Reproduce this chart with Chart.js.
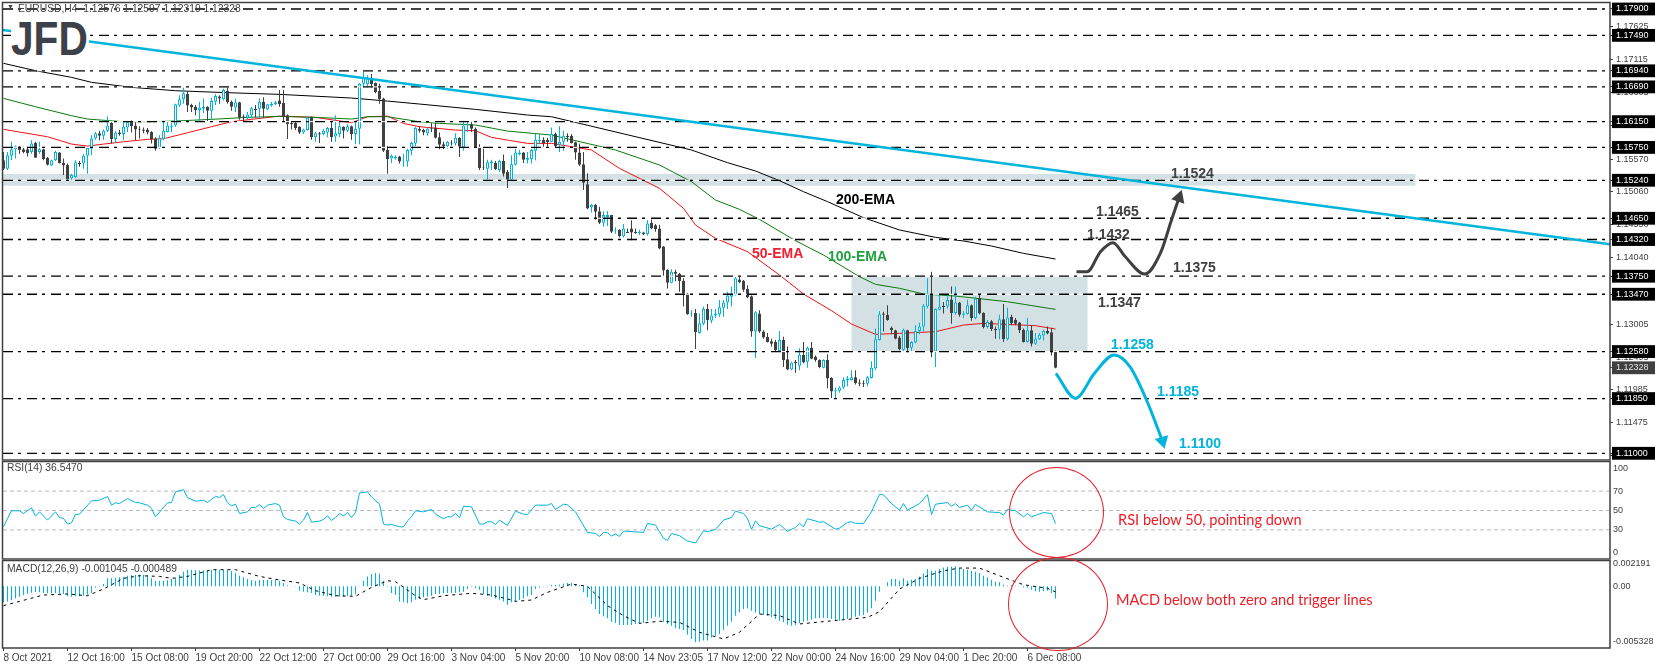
<!DOCTYPE html>
<html>
<head>
<meta charset="utf-8">
<title>EURUSD H4</title>
<script src="https://cdn.jsdelivr.net/npm/chart.js@4/dist/chart.umd.min.js"></script>
<style>
  html, body { margin: 0; padding: 0; background: #fff; width: 1655px; height: 669px; overflow: hidden; }
  canvas { position: absolute; left: 0; }
  #cMain { top: 0; }
  #cRsi { top: 461px; }
  #cMacd { top: 560px; }
  .t { position: absolute; white-space: nowrap; line-height: 16px; }
  .info { font: 10.3px "Liberation Sans", sans-serif; color: #404040; }
  .note { font: bold 14px "Liberation Sans", sans-serif; color: #404040; }
  .cyan { color: #00b4dc; }
  .red { font: 14.6px "Lato", sans-serif; color: #ee1c25; }
  .ring { position: absolute; box-sizing: border-box; border: 1px solid #e8202c; border-radius: 50%; }
  #logo { position: absolute; left: 11px; top: 18px; width: 78px; height: 39px; background: #fff; overflow: hidden; }
  #logo span { position: absolute; left: 0; top: -4px; font: bold 49px/49px "Liberation Sans", sans-serif; color: #3d4149; transform: scaleX(0.83); transform-origin: left top; }
</style>
</head>
<body>
<canvas id="cMain" width="1655" height="461"></canvas>
<canvas id="cRsi" width="1655" height="99"></canvas>
<canvas id="cMacd" width="1655" height="109"></canvas>

<div id="logo"><span>JFD</span></div>
<div class="t info" style="left:7px;top:3px;font-size:7px">▼</div>
<div class="t info" style="left:18px;top:3px">EURUSD,H4&nbsp; 1.12576 1.12597 1.12319 1.12328</div>
<div class="t info" style="left:7px;top:462px">RSI(14) 36.5470</div>
<div class="t info" style="left:7px;top:563px">MACD(12,26,9) -0.001045 -0.000489</div>

<div class="t note" style="left:1171px;top:165px">1.1524</div>
<div class="t note" style="left:1096px;top:203px">1.1465</div>
<div class="t note" style="left:1087px;top:226px">1.1432</div>
<div class="t note" style="left:1173px;top:259px">1.1375</div>
<div class="t note" style="left:1098px;top:294px">1.1347</div>
<div class="t note cyan" style="left:1111px;top:336px">1.1258</div>
<div class="t note cyan" style="left:1157px;top:383px">1.1185</div>
<div class="t note cyan" style="left:1179px;top:435px">1.1100</div>
<div class="t note" style="left:836px;top:191px;color:#000">200-EMA</div>
<div class="t note" style="left:752px;top:245px;color:#f02030">50-EMA</div>
<div class="t note" style="left:828px;top:248px;color:#1fa040">100-EMA</div>

<div class="ring" style="left:1009px;top:467px;width:95px;height:91px"></div>
<div class="ring" style="left:1008px;top:557px;width:100px;height:94px"></div>
<div class="t red" style="left:1118px;top:511px">RSI below 50, pointing down</div>
<div class="t red" style="left:1116px;top:591px">MACD below both zero and trigger lines</div>

<script>
// ---- Candles, one value per H4 bar ----

const opens = [
  1.1555,1.1542,1.1562,1.1572,1.1576,1.1572,1.1572,1.1568,1.1582,1.1568,
  1.1572,1.1559,1.1547,1.1555,1.1567,1.1551,1.1548,1.1527,1.1529,1.1551,
  1.1550,1.1562,1.1573,1.1589,1.1597,1.1593,1.1601,1.1613,1.1588,1.1598,
  1.1596,1.1606,1.1615,1.1609,1.1604,1.1603,1.1603,1.1599,1.1589,1.1574,
  1.1588,1.1599,1.1606,1.1609,1.1640,1.1650,1.1658,1.1641,1.1638,1.1633,
  1.1635,1.1638,1.1632,1.1646,1.1654,1.1650,1.1663,1.1646,1.1637,1.1645,
  1.1623,1.1621,1.1625,1.1635,1.1635,1.1646,1.1634,1.1640,1.1642,1.1648,
  1.1644,1.1625,1.1613,1.1613,1.1607,1.1598,1.1602,1.1622,1.1591,1.1597,
  1.1596,1.1598,1.1605,1.1592,1.1596,1.1607,1.1601,1.1608,1.1596,1.1604,
  1.1674,1.1673,1.1682,1.1675,1.1663,1.1651,1.1571,1.1558,1.1558,1.1561,
  1.1553,1.1553,1.1570,1.1581,1.1604,1.1602,1.1597,1.1605,1.1606,1.1591,
  1.1580,1.1577,1.1582,1.1581,1.1590,1.1575,1.1609,1.1611,1.1604,1.1576,
  1.1545,1.1542,1.1551,1.1551,1.1540,1.1554,1.1537,1.1525,1.1548,1.1564,
  1.1567,1.1556,1.1557,1.1570,1.1585,1.1587,1.1587,
  1.1584,1.1596,1.1579,1.1584,1.1593,1.1593,1.1583,1.1567,1.1549,1.1518,
  1.1482,1.1486,1.1476,1.1458,1.1467,1.1470,1.1445,1.1447,1.1437,1.1444,
  1.1449,1.1444,1.1442,1.1443,1.1440,1.1458,1.1454,1.1449,1.1421,1.1385,
  1.1365,1.1382,1.1379,1.1368,1.1348,1.1316,1.1318,1.1287,1.1301,1.1324,
  1.1306,1.1314,1.1316,1.1326,1.1334,1.1343,1.1346,1.1370,1.1368,1.1355,
  1.1344,1.1289,1.1317,1.1289,1.1281,1.1274,1.1273,1.1259,1.1276,1.1246,
  1.1230,1.1242,1.1236,1.1253,1.1242,1.1264,1.1250,1.1245,1.1233,1.1245,
  1.1217,1.1196,1.1197,1.1202,1.1213,1.1214,1.1218,1.1210,1.1209,1.1208,
  1.1217,1.1232,1.1276,1.1317,1.1315,1.1295,1.1291,1.1280,1.1261,1.1291,
  1.1264,1.1272,1.1290,1.1297,1.1328,1.1347,1.1258,1.1323,1.1329,1.1328,
  1.1339,1.1318,1.1334,1.1315,1.1316,1.1330,1.1310,1.1341,1.1318,1.1296,
  1.1305,1.1293,1.1292,1.1308,1.1277,1.1312,1.1307,1.1303,1.1292,1.1273,
  1.1291,1.1270,1.1277,1.1283,1.1290,1.1288,1.12576
];

const highs = [
  1.1568,1.1568,1.1584,1.1578,1.1577,1.1576,1.1576,1.1586,1.1584,1.1584,
  1.1573,1.1560,1.1556,1.1570,1.1568,1.1558,1.1550,1.1534,1.1555,1.1554,
  1.1565,1.1576,1.1594,1.1599,1.1601,1.1603,1.1623,1.1615,1.1601,1.1602,
  1.1615,1.1616,1.1617,1.1615,1.1608,1.1606,1.1605,1.1600,1.1591,1.1594,
  1.1615,1.1615,1.1613,1.1643,1.1656,1.1668,1.1661,1.1643,1.1641,1.1646,
  1.1651,1.1639,1.1652,1.1658,1.1656,1.1666,1.1668,1.1648,1.1651,1.1646,
  1.1626,1.1630,1.1638,1.1641,1.1651,1.1653,1.1643,1.1646,1.1647,1.1664,
  1.1664,1.1626,1.1616,1.1615,1.1608,1.1604,1.1623,1.1623,1.1599,1.1599,
  1.1604,1.1607,1.1615,1.1625,1.1616,1.1608,1.1611,1.1609,1.1615,1.1675,
  1.1693,1.1687,1.1689,1.1676,1.1674,1.1652,1.1577,1.1564,1.1563,1.1562,
  1.1565,1.1573,1.1584,1.1607,1.1608,1.1604,1.1606,1.1613,1.1613,1.1598,
  1.1584,1.1585,1.1586,1.1597,1.1591,1.1616,1.1615,1.1616,1.1606,1.1580,
  1.1573,1.1556,1.1556,1.1554,1.1556,1.1564,1.1540,1.1563,1.1573,1.1571,
  1.1568,1.1568,1.1573,1.1596,1.1596,1.1591,1.1590,
  1.1606,1.1598,1.1608,1.1601,1.1597,1.1596,1.1584,1.1581,1.1568,1.1535,
  1.1487,1.1487,1.1483,1.1476,1.1476,1.1470,1.1451,1.1448,1.1456,1.1449,
  1.1462,1.1449,1.1447,1.1444,1.1462,1.1463,1.1456,1.1455,1.1422,1.1386,
  1.1386,1.1385,1.1380,1.1372,1.1349,1.1322,1.1324,1.1317,1.1328,1.1332,
  1.1324,1.1324,1.1338,1.1338,1.1351,1.1359,1.1374,1.1375,1.1369,1.1361,
  1.1345,1.1321,1.1322,1.1291,1.1287,1.1278,1.1276,1.1290,1.1281,1.1266,
  1.1242,1.1245,1.1263,1.1273,1.1266,1.1273,1.1252,1.1246,1.1246,1.1254,
  1.1218,1.1202,1.1204,1.1218,1.1220,1.1229,1.1229,1.1215,1.1213,1.1220,
  1.1243,1.1294,1.1321,1.1320,1.1330,1.1297,1.1292,1.1282,1.1294,1.1292,
  1.1274,1.1299,1.1303,1.1332,1.1372,1.1382,1.1325,1.1346,1.1335,1.1346,
  1.1359,1.1359,1.1335,1.1321,1.1339,1.1331,1.1343,1.1347,1.1319,1.1307,
  1.1307,1.1297,1.1315,1.1332,1.1326,1.1315,1.1310,1.1304,1.1294,1.1310,
  1.1299,1.1287,1.1287,1.1292,1.1297,1.1295,1.12597
];

const lows = [
  1.1540,1.1540,1.1555,1.1558,1.1565,1.1566,1.1561,1.1565,1.1559,1.1565,
  1.1555,1.1547,1.1546,1.1554,1.1550,1.1532,1.1523,1.1523,1.1528,1.1545,
  1.1542,1.1534,1.1563,1.1587,1.1586,1.1587,1.1599,1.1581,1.1582,1.1593,
  1.1586,1.1599,1.1598,1.1586,1.1589,1.1597,1.1595,1.1581,1.1570,1.1573,
  1.1586,1.1598,1.1599,1.1607,1.1638,1.1643,1.1630,1.1630,1.1625,1.1617,
  1.1628,1.1616,1.1618,1.1641,1.1643,1.1648,1.1643,1.1632,1.1630,1.1618,
  1.1616,1.1618,1.1620,1.1622,1.1620,1.1621,1.1633,1.1638,1.1641,1.1638,
  1.1616,1.1588,1.1603,1.1602,1.1596,1.1596,1.1601,1.1587,1.1584,1.1582,
  1.1594,1.1591,1.1584,1.1584,1.1591,1.1589,1.1599,1.1587,1.1580,1.1580,
  1.1668,1.1668,1.1668,1.1659,1.1643,1.1568,1.1534,1.1551,1.1556,1.1550,
  1.1545,1.1545,1.1563,1.1577,1.1598,1.1594,1.1593,1.1599,1.1589,1.1572,
  1.1572,1.1573,1.1578,1.1578,1.1560,1.1570,1.1599,1.1599,1.1574,1.1540,
  1.1540,1.1525,1.1540,1.1540,1.1537,1.1530,1.1512,1.1524,1.1547,1.1563,
  1.1551,1.1550,1.1550,1.1555,1.1581,1.1576,1.1576,
  1.1583,1.1575,1.1568,1.1570,1.1584,1.1581,1.1556,1.1546,1.1509,1.1479,
  1.1474,1.1463,1.1456,1.1452,1.1453,1.1442,1.1441,1.1435,1.1435,1.1442,
  1.1431,1.1441,1.1439,1.1439,1.1438,1.1448,1.1444,1.1417,1.1375,1.1356,
  1.1364,1.1367,1.1351,1.1328,1.1315,1.1312,1.1262,1.1286,1.1299,1.1291,
  1.1302,1.1310,1.1312,1.1312,1.1324,1.1328,1.1345,1.1364,1.1351,1.1341,
  1.1281,1.1248,1.1287,1.1278,1.1272,1.1266,1.1258,1.1258,1.1234,1.1229,
  1.1229,1.1225,1.1229,1.1240,1.1233,1.1246,1.1242,1.1232,1.1232,1.1201,
  1.1185,1.1185,1.1194,1.1200,1.1204,1.1213,1.1207,1.1204,1.1203,1.1204,
  1.1216,1.1229,1.1275,1.1289,1.1306,1.1285,1.1277,1.1260,1.1258,1.1257,
  1.1258,1.1271,1.1285,1.1289,1.1325,1.1249,1.1234,1.1322,1.1317,1.1325,
  1.1301,1.1315,1.1312,1.1310,1.1315,1.1306,1.1308,1.1316,1.1294,1.1294,
  1.1290,1.1278,1.1277,1.1273,1.1275,1.1299,1.1299,1.1287,1.1272,1.1272,
  1.1266,1.1268,1.1276,1.1275,1.1285,1.1252,1.12319
];

const closes = [
  1.1542,1.1563,1.1572,1.1577,1.1571,1.1568,1.1566,1.1581,1.1559,1.1572,
  1.1557,1.1548,1.1555,1.1568,1.1551,1.1547,1.1526,1.1532,1.1552,1.1549,
  1.1562,1.1574,1.1589,1.1597,1.1593,1.1601,1.1609,1.1588,1.1598,1.1596,
  1.1607,1.1614,1.1608,1.1603,1.1603,1.1601,1.1598,1.1588,1.1573,1.1589,
  1.1601,1.1609,1.1608,1.1642,1.1650,1.1659,1.1640,1.1637,1.1633,1.1637,
  1.1638,1.1632,1.1647,1.1655,1.1651,1.1664,1.1645,1.1638,1.1645,1.1621,
  1.1621,1.1626,1.1636,1.1633,1.1646,1.1635,1.1642,1.1643,1.1645,1.1642,
  1.1622,1.1611,1.1611,1.1605,1.1598,1.1603,1.1621,1.1591,1.1597,1.1595,
  1.1601,1.1605,1.1591,1.1597,1.1608,1.1601,1.1608,1.1596,1.1604,1.1674,
  1.1683,1.1683,1.1673,1.1661,1.1650,1.1570,1.1557,1.1562,1.1560,1.1553,
  1.1554,1.1571,1.1582,1.1605,1.1601,1.1598,1.1604,1.1604,1.1590,1.1579,
  1.1577,1.1584,1.1581,1.1590,1.1576,1.1609,1.1611,1.1604,1.1575,1.1543,
  1.1544,1.1552,1.1553,1.1541,1.1554,1.1534,1.1525,1.1549,1.1567,1.1567,
  1.1556,1.1559,1.1571,1.1587,1.1587,1.1582,1.1583,
  1.1596,1.1577,1.1584,1.1593,1.1591,1.1582,1.1567,1.1548,1.1520,1.1480,
  1.1486,1.1475,1.1458,1.1470,1.1470,1.1444,1.1446,1.1437,1.1449,1.1442,
  1.1443,1.1442,1.1444,1.1440,1.1457,1.1449,1.1448,1.1418,1.1384,1.1365,
  1.1382,1.1379,1.1367,1.1348,1.1316,1.1317,1.1288,1.1302,1.1324,1.1307,
  1.1314,1.1317,1.1327,1.1334,1.1345,1.1347,1.1372,1.1366,1.1354,1.1342,
  1.1289,1.1319,1.1289,1.1280,1.1273,1.1270,1.1260,1.1276,1.1245,1.1230,
  1.1241,1.1240,1.1253,1.1241,1.1264,1.1247,1.1245,1.1234,1.1245,1.1216,
  1.1196,1.1198,1.1202,1.1214,1.1216,1.1218,1.1209,1.1208,1.1208,1.1218,
  1.1233,1.1277,1.1316,1.1315,1.1307,1.1291,1.1278,1.1262,1.1292,1.1263,
  1.1273,1.1290,1.1297,1.1329,1.1347,1.1257,1.1324,1.1328,1.1327,1.1338,
  1.1318,1.1334,1.1315,1.1317,1.1330,1.1310,1.1340,1.1317,1.1296,1.1304,
  1.1293,1.1291,1.1308,1.1277,1.1311,1.1302,1.1301,1.1291,1.1273,1.1291,
  1.1270,1.1278,1.1284,1.1290,1.1286,1.1257,1.12328
];

// ---- Moving averages, read at the bars listed beside them ----

const ema200Bars = [0,8,17,22,32,43,56,69,87,96,104,118,131,137,172,181,188,194,200,206,215,224,233,240,247,255,263];
const ema200 = [1.17056,1.16942,1.16838,1.16761,1.16683,1.16631,1.16600,1.16574,1.16517,1.16470,1.16424,1.16341,1.16253,1.16227,1.1571,1.15513,1.15384,1.15234,1.15063,1.14908,1.14659,1.14468,1.14354,1.14297,1.14219,1.14105,1.14017];

const ema100Bars = [0,8,17,21,30,36,43,52,61,69,78,87,91,96,104,109,118,126,137,153,164,172,178,184,189,198,205,214,218,224,230,238,251,263];
const ema100 = [1.16512,1.16382,1.16243,1.16191,1.16149,1.16149,1.16160,1.16186,1.16217,1.16232,1.16217,1.16191,1.16227,1.16227,1.16149,1.16123,1.16098,1.16004,1.15942,1.1571,1.15477,1.15218,1.14933,1.14788,1.14633,1.14302,1.14079,1.13743,1.13624,1.13562,1.13474,1.13442,1.13354,1.13235];

const ema50Bars = [0,4,11,17,21,25,30,36,40,46,52,57,62,69,78,87,91,96,100,104,113,118,122,126,131,137,147,154,164,170,173,178,186,194,200,207,212,218,224,233,240,245,258,263];
const ema50 = [1.16030,1.15989,1.15916,1.15802,1.15771,1.15802,1.15838,1.15875,1.15885,1.15978,1.16072,1.16149,1.16186,1.16237,1.16217,1.16134,1.16227,1.16237,1.16123,1.16072,1.16020,1.16009,1.15906,1.15864,1.15813,1.15813,1.1571,1.15425,1.15115,1.14804,1.14545,1.14338,1.14131,1.13769,1.13474,1.13215,1.13008,1.12847,1.12863,1.12889,1.12992,1.13018,1.12982,1.12930];

// ---- Drawn objects on the price panel ----

const levels = [1.1790,1.1749,1.1694,1.1669,1.1615,1.1575,1.1524,1.1465,1.1432,1.1375,1.1347,1.1258,1.1185,1.1100];
const trendBars = [-0.125, 401.625];
const trendPrices = [1.17574, 1.14246];

const upPathBars = [268.25,270.9,274.25,277.35,280.45,285.3,289.25,292,293.9];
const upPathPrices = [1.13820,1.13820,1.14131,1.14271,1.14053,1.13784,1.14111,1.14623,1.1497];
const downPathBars = [263.1,268,272.75,277.65,281.6,285.75,289.75];
const downPathPrices = [1.12242,1.11854,1.12242,1.12526,1.12345,1.11828,1.11191];

const priceTicks = [1.17625,1.17115,1.16605,1.16095,1.15570,1.15060,1.14550,1.14040,1.13005,1.12495,1.11985,1.11475,1.10965];
const lastPrice = 1.12328;

// ---- RSI ----

const rsiBars = [0,1,2,4,5,7,8,9,11,13,14,15,16,17,18,19,22,24,26,27,28,29,31,33,34,36,37,38,41,42,43,45,46,48,50,51,53,54,55,56,57,58,59,61,62,63,64,65,66,68,69,70,71,73,74,75,76,77,79,80,81,82,83,84,85,86,87,88,89,91,92,94,95,96,97,99,100,101,102,103,105,107,108,110,111,112,113,114,115,117,119,120,121,122,123,124,126,128,130,131,133,136,137,138,140,141,143,146,148,149,150,151,152,153,154,155,160,161,163,165,166,167,169,171,173,175,176,178,180,182,183,185,186,187,188,189,192,194,196,198,199,200,201,204,205,208,209,211,212,213,215,217,219,220,222,224,225,226,229,231,232,233,236,237,238,239,241,242,243,246,249,250,251,253,255,256,257,260,262,263];
const rsiValues = [33.2,41.8,49.7,49.7,46.9,52.7,44.2,48.6,40.1,48.6,42.8,41.8,36,37.3,45.9,46.2,59.9,60.6,64.4,55.5,57.9,57.2,62.3,58.2,57.9,55.5,52.1,43.5,57.9,58.2,69.2,71.5,63.3,59.6,60.6,58.2,64.7,63.3,66.4,57.9,54.8,56.5,46.9,48.6,53.1,53.1,56.2,52.1,55.5,57.2,55.5,43.5,40.8,39.1,36,40.1,47.9,38,39.1,40.8,44.5,39.7,42.8,46.9,44.5,47.9,42.8,47.9,68.1,69.2,64,56.5,36,35,35.6,33.2,33.2,39.4,43.5,49.7,48.6,51,46.2,41.5,43.5,43.5,46.9,42.5,54.4,53.8,36,36,38.4,38.4,35.6,40.1,34.6,49.3,46.2,45.9,55.5,55.5,57.2,51,56.5,55.8,48.6,27.4,26.4,23.3,27.4,27.1,23.7,25.7,23.3,28.8,27.4,36.7,35,21.3,19.2,26.4,24,18.5,16.5,29.1,28.1,30.5,40.1,42.8,49.3,46.9,41.8,30.5,39.4,34.3,30.8,35.6,28.5,32.6,36.7,33.2,41.5,38,38.4,30.8,31.9,37.7,38.4,36.7,36.7,48.6,66.8,66.1,57.2,50.3,57.2,50.3,57.2,66.4,45.9,56.5,58.2,54.4,57.2,53.1,55.5,50.3,56.2,48.6,47.9,45.2,51,49.7,43.5,46.9,43.5,47.9,46.9,36.5];
const rsiLevels = [70, 50, 30];
const rsiTickPlaces = [7, 30, 50, 70, 93];
const rsiTickLabels = ['0', '30', '50', '70', '100'];

// ---- MACD, in points of 0.00001 ----

const macdHist = [
  -138,-132,-118,-104,-89,-75,-66,-55,-49,-52,-58,-60,-60,-60,-60,-66,-86,-89,-86,-86,
  -81,-72,-58,-9,-3,20,69,69,72,78,84,92,98,98,101,101,98,69,49,49,
  49,52,63,69,98,127,144,144,141,138,138,135,144,144,144,141,144,132,115,92,
  78,63,55,49,55,55,55,55,55,49,29,9,3,3,-37,-46,-52,-58,-75,-81,
  -84,-86,-89,-89,-89,-89,-86,-81,-69,3,49,86,107,115,112,49,-3,-58,-75,-130,
  -138,-147,-138,-115,-109,-95,-89,-81,-66,-66,-60,-58,-58,-58,-52,-46,-23,-3,-17,-29,
  -66,-81,-89,-104,-115,-132,-158,-138,-132,-118,-104,-86,-75,-23,-9,-2,2,12,12,14,
  23,29,29,20,12,-52,-95,-153,-196,-239,-259,-276,-305,-317,-334,-334,-334,-334,-325,-320,
  -317,-297,-276,-262,-268,-305,-325,-340,-363,-369,-377,-418,-455,-484,-478,-469,-469,-441,-426,-412,
  -377,-340,-305,-253,-225,-196,-190,-210,-225,-239,-248,-253,-268,-282,-297,-311,-331,-340,-334,-317,
  -305,-297,-288,-276,-274,-274,-274,-282,-297,-297,-288,-282,-276,-262,-253,-248,-225,-190,-124,-46,
  0,35,63,63,49,69,49,58,63,86,112,150,135,135,150,164,170,170,173,158,
  150,141,135,127,115,92,78,58,40,35,14,6,12,6,0,-9,-12,-29,-43,-46,
  -43,-37,-58,-104.5
];
const signalBars = [0,4,10,16,21,25,30,34,39,42,46,52,58,64,69,74,78,83,88,92,96,98,103,105,110,117,122,126,128,132,136,142,146,151,155,159,164,169,174,180,184,189,194,199,205,212,216,219,224,229,235,239,244,250,255,261,263];
const signalValues = [-167,-130,-75,-66,-81,-23,69,92,86,69,86,144,144,86,55,29,-37,-81,-86,-9,49,40,-81,-115,-81,-60,-75,-109,-130,-118,-52,20,0,-167,-253,-320,-302,-311,-397,-455,-397,-239,-253,-325,-305,-282,-268,-219,-23,69,135,158,158,78,14,-17,-48.9];
const macdTickPlaces = [-480, 0, 195];
const macdTickLabels = ['-0.005328', '0.00', '0.002191'];

// ---- Time axis, one label every 16 bars ----

const barsPerLabel = 16;
const dateLabels = ['8 Oct 2021','12 Oct 16:00','15 Oct 08:00','19 Oct 20:00','22 Oct 12:00','27 Oct 00:00','29 Oct 16:00','3 Nov 04:00','5 Nov 20:00','10 Nov 08:00','14 Nov 23:05','17 Nov 12:00','22 Nov 00:00','24 Nov 16:00','29 Nov 04:00','1 Dec 20:00','6 Dec 08:00'];

// ---- Colours and helpers ----

const CYAN = '#00b4dc';
const DARK = '#404040';
const ZONE = '#d3e0e4';
const FONT = '"Liberation Sans", sans-serif';
const X_MIN = -0.125;
const X_MAX = 401.625;

function pairs(xs, ys) {
  return xs.map((x, i) => ({ x, y: ys[i] }));
}

function line(data, color, width, extra) {
  return Object.assign({
    type: 'line', data, borderColor: color, borderWidth: width,
    pointRadius: 0, tension: 0, fill: false, clip: true
  }, extra || {});
}

function level(value, color, width, extra) {
  return line([{ x: X_MIN, y: value }, { x: X_MAX, y: value }], color, width, extra);
}

// curved arrow with its head on the last point
function arrow(xs, ys, color, headRotation) {
  return line(pairs(xs, ys), color, 3, {
    cubicInterpolationMode: 'monotone', order: 2,
    pointRadius: xs.map((_, i) => (i === xs.length - 1 ? 8 : 0)),
    pointStyle: 'triangle', pointRotation: headRotation, pointBackgroundColor: color, pointBorderWidth: 0
  });
}

// chart.js keeps half a label of room round an axis, the panels here must touch exactly
function noAxisPadding(scale) {
  scale.paddingTop = 0;
  scale.paddingBottom = 0;
  scale.paddingLeft = 0;
  scale.paddingRight = 0;
}

function timeScale(show) {
  return {
    type: 'linear', display: show, min: X_MIN, max: X_MAX, offset: false,
    grid: { display: show, drawOnChartArea: false, drawTicks: true, tickLength: 3, color: DARK, offset: false },
    border: { display: false },
    afterBuildTicks: scale => { scale.ticks = dateLabels.map((_, i) => ({ value: i * barsPerLabel })); },
    afterFit: scale => { scale.height = show ? 21 : 0; noAxisPadding(scale); },
    ticks: {
      autoSkip: false, maxRotation: 0, minRotation: 0, align: 'start', padding: 1,
      color: DARK, font: { family: FONT, size: 10 },
      callback: v => dateLabels[v / barsPerLabel]
    }
  };
}

// zones are filled under the candles, the frame goes round the panel on top
const panelPlugin = {
  id: 'panel',
  beforeDatasetsDraw(chart, args, opts) {
    const { ctx, scales: { x, y } } = chart;
    (opts.zones || []).forEach(z => {
      const left = x.getPixelForValue(z.bars[0]);
      const top = y.getPixelForValue(z.prices[0]);
      ctx.fillStyle = ZONE;
      ctx.fillRect(left, top, x.getPixelForValue(z.bars[1]) - left, y.getPixelForValue(z.prices[1]) - top);
    });
  },
  afterDatasetsDraw(chart) {
    const { ctx, chartArea: a } = chart;
    ctx.strokeStyle = DARK;
    ctx.lineWidth = 1.5;
    ctx.strokeRect(a.left - 0.5, a.top - 0.5, a.right - a.left + 0.5, a.bottom - a.top + 0.5);
  }
};
Chart.register(panelPlugin);

function baseOptions(padding, xScale, yScale, zones) {
  return {
    responsive: false, animation: false, events: [],
    layout: { padding, autoPadding: false },
    plugins: { legend: { display: false }, tooltip: { enabled: false }, panel: { zones: zones || [] } },
    scales: { x: xScale, y: yScale }
  };
}

function sideScale(min, max, tickPlaces, labelFor, padding, extra) {
  return Object.assign({
    type: 'linear', position: 'right', min, max,
    border: { display: false },
    grid: { drawOnChartArea: false, drawTicks: true, tickLength: 3, color: DARK },
    afterBuildTicks: scale => { scale.ticks = tickPlaces.map(value => ({ value })); },
    afterFit: scale => { scale.width = 45; noAxisPadding(scale); }
  }, extra || {}, {
    ticks: Object.assign({
      autoSkip: false, padding, color: DARK, font: { family: FONT, size: 9 }, callback: labelFor
    }, (extra || {}).ticks || {})
  });
}

// ---- Price panel ----

const barIndex = opens.map((_, i) => i);
const isUp = barIndex.map(i => closes[i] >= opens[i]);
const candleColors = isUp.map(up => (up ? CYAN : DARK));
const isLevel = v => levels.includes(v);

const mainTickValues = priceTicks.concat(levels, [lastPrice]);

new Chart(document.getElementById('cMain'), {
  type: 'bar',
  data: {
    datasets: [
      line(pairs(ema200Bars, ema200), '#000000', 1, { order: 8 }),
      line(pairs(ema100Bars, ema100), '#0b7a0b', 1, { order: 8 }),
      line(pairs(ema50Bars, ema50), '#ee1111', 1, { order: 8 }),
      {
        data: barIndex.map(i => ({ x: i, y: [lows[i], highs[i]] })),
        backgroundColor: candleColors, barThickness: 1, grouped: false, inflateAmount: 0, order: 7
      },
      {
        data: barIndex.map(i => ({ x: i, y: [opens[i], closes[i]] })),
        backgroundColor: isUp.map(up => (up ? '#ffffff' : DARK)), borderColor: candleColors,
        borderWidth: 1, borderSkipped: false, barThickness: 3, grouped: false, inflateAmount: 0, order: 6
      },
      ...levels.map(v => level(v, '#ffffff', 1, { order: 5 })),
      ...levels.map(v => level(v, '#000000', 1.3, { borderDash: [10, 5, 3, 6], order: 4 })),
      line(pairs(trendBars, trendPrices), CYAN, 2.4, { order: 3 }),
      arrow(upPathBars, upPathPrices, DARK, 19),
      arrow(downPathBars, downPathPrices, CYAN, 165)
    ]
  },
  options: baseOptions(
    { left: 3, top: 3, bottom: 1, right: 0 },
    timeScale(false),
    sideScale(1.10896, 1.17993, mainTickValues, v => v.toFixed(5), 3, {
      ticks: {
        color: c => (isLevel(c.tick.value) ? '#ffffff' : c.tick.value === lastPrice ? '#e6e6e6' : DARK),
        showLabelBackdrop: c => isLevel(c.tick.value) || c.tick.value === lastPrice,
        backdropColor: c => (c.tick.value === lastPrice ? DARK : '#000000'),
        backdropPadding: { left: 4, right: 9, top: 1, bottom: 1 }
      }
    }),
    [
      { bars: [X_MIN, 353], prices: [1.15337, 1.15156] },
      { bars: [212, 271], prices: [1.1375, 1.1258] }
    ]
  )
});

// ---- RSI panel ----

new Chart(document.getElementById('cRsi'), {
  type: 'bar',
  data: {
    datasets: [
      line(pairs(rsiBars, rsiValues), CYAN, 1, { order: 1 }),
      ...rsiLevels.map(v => level(v, '#bbbbbb', 1, { borderDash: [4, 3], order: 2 }))
    ]
  },
  options: baseOptions(
    { left: 3, top: 1, bottom: 1, right: 0 },
    timeScale(false),
    sideScale(0, 100, rsiTickPlaces, v => rsiTickLabels[rsiTickPlaces.indexOf(v)], 3, {
      grid: { display: false, drawTicks: false }
    })
  )
});

// ---- MACD panel ----

new Chart(document.getElementById('cMacd'), {
  type: 'bar',
  data: {
    datasets: [
      {
        data: macdHist.map((v, i) => ({ x: i, y: v })),
        backgroundColor: CYAN, barThickness: 1, grouped: false, inflateAmount: 0, order: 2
      },
      line(pairs(signalBars, signalValues), '#000000', 1, { borderDash: [3, 4], order: 1 })
    ]
  },
  options: baseOptions(
    { left: 3, top: 1, bottom: 0, right: 0 },
    timeScale(true),
    sideScale(-532.8, 219.1, macdTickPlaces, v => macdTickLabels[macdTickPlaces.indexOf(v)], 3, {
      grid: { display: false, drawTicks: false }
    })
  )
});
</script>
</body>
</html>
